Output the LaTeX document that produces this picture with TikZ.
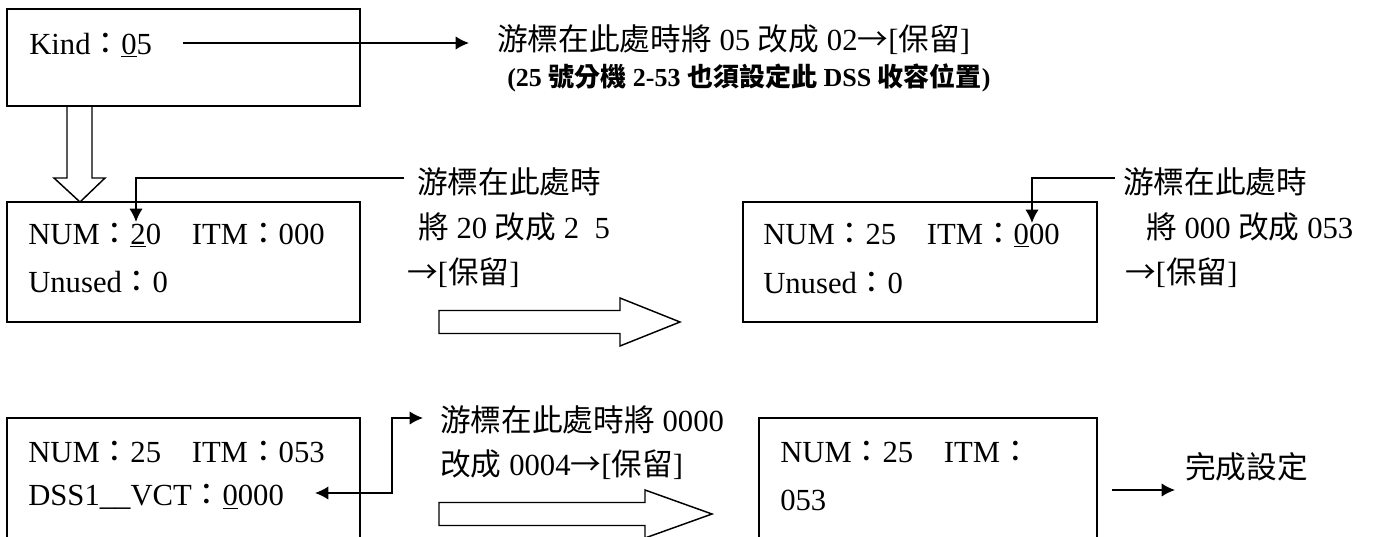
\documentclass[tikz,border=0pt]{standalone}
\usepackage{fontspec}
\setmainfont{Liberation Serif}
\newfontfamily\zh{Noto Sans CJK TC}
\usetikzlibrary{arrows.meta}
\def\fs{\fontsize{23}{28}\selectfont}
\def\fsb{\fontsize{19.5}{24}\selectfont\bfseries}
\def\ra{{\zh →}}

\begin{document}
\begin{tikzpicture}[x=0.75pt, y=-0.75pt]
  \tikzstyle{box}=[draw, line width=1pt, inner sep=0pt]
  \tikzstyle{txt}=[anchor=west, inner sep=0pt, font=\fs]
  \tikzstyle{tip}=[-{Latex[length=10pt,width=10pt]}, line width=1.1pt]
  \tikzstyle{tips}=[{Latex[length=10pt,width=10pt]}-{Latex[length=10pt,width=10pt]}, line width=1.1pt]
  \tikzstyle{hollow}=[draw, line width=1.1pt, line join=miter]

  \useasboundingbox (0,0) rectangle (1375,536);
  \clip (0,0) rectangle (1375,536);

  % boxes
  \node[box, minimum width=264.75pt, minimum height=72.75pt] (B1) at (183.5,57.5) {};
  \node[box, minimum width=264.75pt, minimum height=90pt] (B2) at (183.5,262) {};
  \node[box, minimum width=265.5pt, minimum height=90pt] (B3) at (920,262) {};
  \node[box, minimum width=264.75pt, minimum height=99pt] (B4) at (183.5,484) {};
  \node[box, minimum width=253.5pt, minimum height=99pt] (B5) at (928,484) {};

  % box texts
  \node[txt] (B1-1) at (29,45) {Kind{\zh ：}\underline{0}5};
  \node[txt] (B2-1) at (28,235) {NUM{\zh ：}\underline{2}0\hspace{1em}ITM{\zh ：}000};
  \node[txt] (B2-2) at (28,282) {Unused{\zh ：}0};
  \node[txt] (B3-1) at (763,235) {NUM{\zh ：}25\hspace{1em}ITM{\zh ：}\underline{0}00};
  \node[txt] (B3-2) at (763,283) {Unused{\zh ：}0};
  \node[txt] (B4-1) at (28,452) {NUM{\zh ：}25\hspace{1em}ITM{\zh ：}053};
  \node[txt] (B4-2) at (28,497) {DSS1\_\_VCT{\zh ：}\underline{0}000};
  \node[txt] (B5-1) at (780,452) {NUM{\zh ：}25\hspace{1em}ITM{\zh ：}};
  \node[txt] (B5-2) at (780,500) {053};

  % notes
  \node[txt] (N1) at (497,40) {{\zh 游標在此處時將} 05 {\zh 改成} 02\ra[{\zh 保留}]};
  \node[txt, font=\fsb] (N1b) at (507,78) {(25 {\zh 號分機} 2-53 {\zh 也須設定此} DSS {\zh 收容位置})};
  \node[txt] (N2-1) at (417,182) {\zh 游標在此處時};
  \node[txt] (N2-2) at (418,227) {{\zh 將} 20 {\zh 改成} 2\ \ 5};
  \node[txt] (N2-3) at (407,273) {\ra[{\zh 保留}]};
  \node[txt] (N3-1) at (1123,182) {\zh 游標在此處時};
  \node[txt] (N3-2) at (1146,227) {{\zh 將} 000 {\zh 改成} 053};
  \node[txt] (N3-3) at (1125,273) {\ra[{\zh 保留}]};
  \node[txt] (N4-1) at (440,420) {{\zh 游標在此處時將} 0000};
  \node[txt] (N4-2) at (440,465) {{\zh 改成} 0004\ra[{\zh 保留}]};
  \node[txt] (N5) at (1185,467) {\zh 完成設定};

  % connector ends
  \coordinate (k0) at (183,43);
  \coordinate (k1) at (469,43);
  \coordinate (c2a) at (404,178);
  \coordinate (c2b) at (136,222);
  \coordinate (c3a) at (1115,178);
  \coordinate (c3b) at (1032,223);
  \coordinate (c4a) at (315,493);
  \coordinate (c4m) at (392,418);
  \coordinate (c4b) at (423,418);
  \coordinate (c5a) at (1112,490);
  \coordinate (c5b) at (1175,490);

  \draw[tip] (k0) -- (k1);
  \draw[tip] (c2a) -| (c2b);
  \draw[tip] (c3a) -| (c3b);
  \draw[tips] (c4a) -| (c4m) -- (c4b);
  \draw[tip] (c5a) -- (c5b);

  % hollow arrows
  \draw[hollow] (67,106) -- (67,178) -- (54,178) -- (80,202) -- (105,178) -- (92,178) -- (92,106);
  \foreach \l/\b/\t/\y in {439/620/680/322, 439/645/712/514}
    \draw[hollow] (\l,\y-11.5) -- (\b,\y-11.5) -- (\b,\y-24) -- (\t,\y)
      -- (\b,\y+24) -- (\b,\y+11.5) -- (\l,\y+11.5) -- cycle;
\end{tikzpicture}
\end{document}
